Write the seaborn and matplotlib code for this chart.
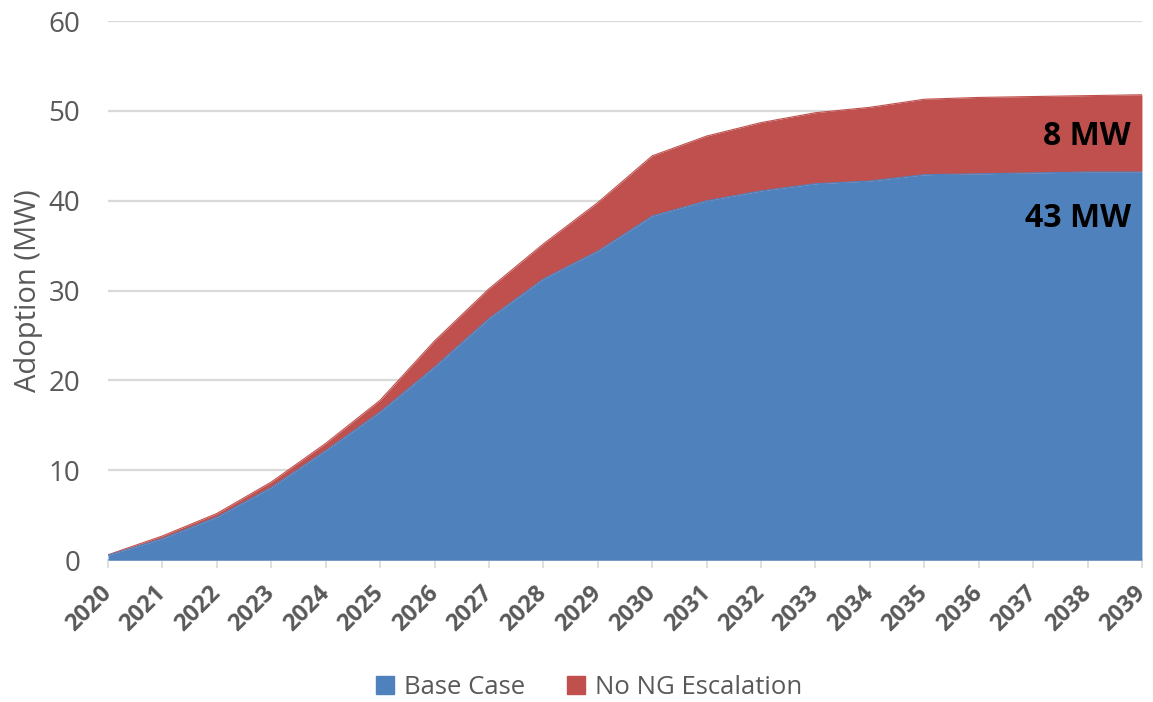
import numpy as np
import pandas as pd
import seaborn as sns
import matplotlib.pyplot as plt
from matplotlib.patches import Patch

years = list(range(2020, 2040))
base_case = [0.55, 2.4, 4.8, 8.1, 12.2, 16.5, 21.5, 26.9, 31.3, 34.4, 38.3,
             40.0, 41.1, 41.9, 42.2, 42.9, 43.0, 43.1, 43.2, 43.2]
no_ng_total = [0.6, 2.7, 5.2, 8.7, 13.0, 17.8, 24.4, 30.2, 35.2, 39.8, 45.0,
               47.2, 48.7, 49.8, 50.4, 51.3, 51.5, 51.6, 51.7, 51.8]
series_names = ["Base Case", "No NG Escalation"]
colors = ["#4F81BD", "#C0504D"]

df = pd.DataFrame({"year": years, "Base Case": base_case, "No NG Escalation": no_ng_total})

sns.set_style("white")
plt.rcParams["font.family"] = ["Open Sans", "DejaVu Sans"]

fig = plt.figure(figsize=(11.53, 7.02), dpi=100)
ax = fig.add_axes([0.0937, 0.202, 0.8967, 0.768])

# stacked areas: red band sits on top of blue
ax.fill_between(df["year"], df["Base Case"], df["No NG Escalation"], color=colors[1], lw=0, zorder=2)
ax.fill_between(df["year"], 0, df["Base Case"], color=colors[0], lw=0, zorder=3)
sns.lineplot(data=df, x="year", y="No NG Escalation", color=colors[1], lw=0.8, ax=ax, zorder=2)
sns.lineplot(data=df, x="year", y="Base Case", color=colors[0], lw=0.8, ax=ax, zorder=3)

ax.set_xlim(2020, 2039)
ax.set_ylim(0, 60)
ax.set_yticks(range(0, 61, 10))
ax.set_xticks(years)
ax.set_xticklabels([str(y) for y in years], rotation=45, ha="right", va="center", rotation_mode="anchor",
                   fontsize=17, fontweight="bold", color="#595959")
ax.tick_params(axis="y", labelsize=20, labelcolor="#595959", length=0, pad=20)
ax.tick_params(axis="x", length=6, width=1.2, color="#D9D9D9", direction="out", pad=15, bottom=True)
ax.grid(axis="y", color="#D9D9D9", lw=1.6, zorder=0)
ax.set_axisbelow(True)
for s in ["top", "right", "left"]:
    ax.spines[s].set_visible(False)
ax.spines["bottom"].set_color("#D9D9D9")
ax.spines["bottom"].set_linewidth(1.4)

ax.set_xlabel("")
ax.set_ylabel("Adoption (MW)", fontsize=21, color="#595959", labelpad=4)

ax.text(2038.8, 47.1, "8 MW", ha="right", va="center", fontsize=23, fontweight="bold", color="black", zorder=5)
ax.text(2038.8, 38.0, "43 MW", ha="right", va="center", fontsize=23, fontweight="bold", color="black", zorder=5)

handles = [Patch(color=c, label=n) for c, n in zip(colors, series_names)]
leg = fig.legend(handles=handles, loc="center", bbox_to_anchor=(0.511, 0.02), ncol=2, frameon=False,
                 fontsize=18.5, handlelength=0.7, handleheight=0.7, handletextpad=0.4, columnspacing=1.6)
for t in leg.get_texts():
    t.set_color("#595959")

fig.savefig("out.png", dpi=100)
